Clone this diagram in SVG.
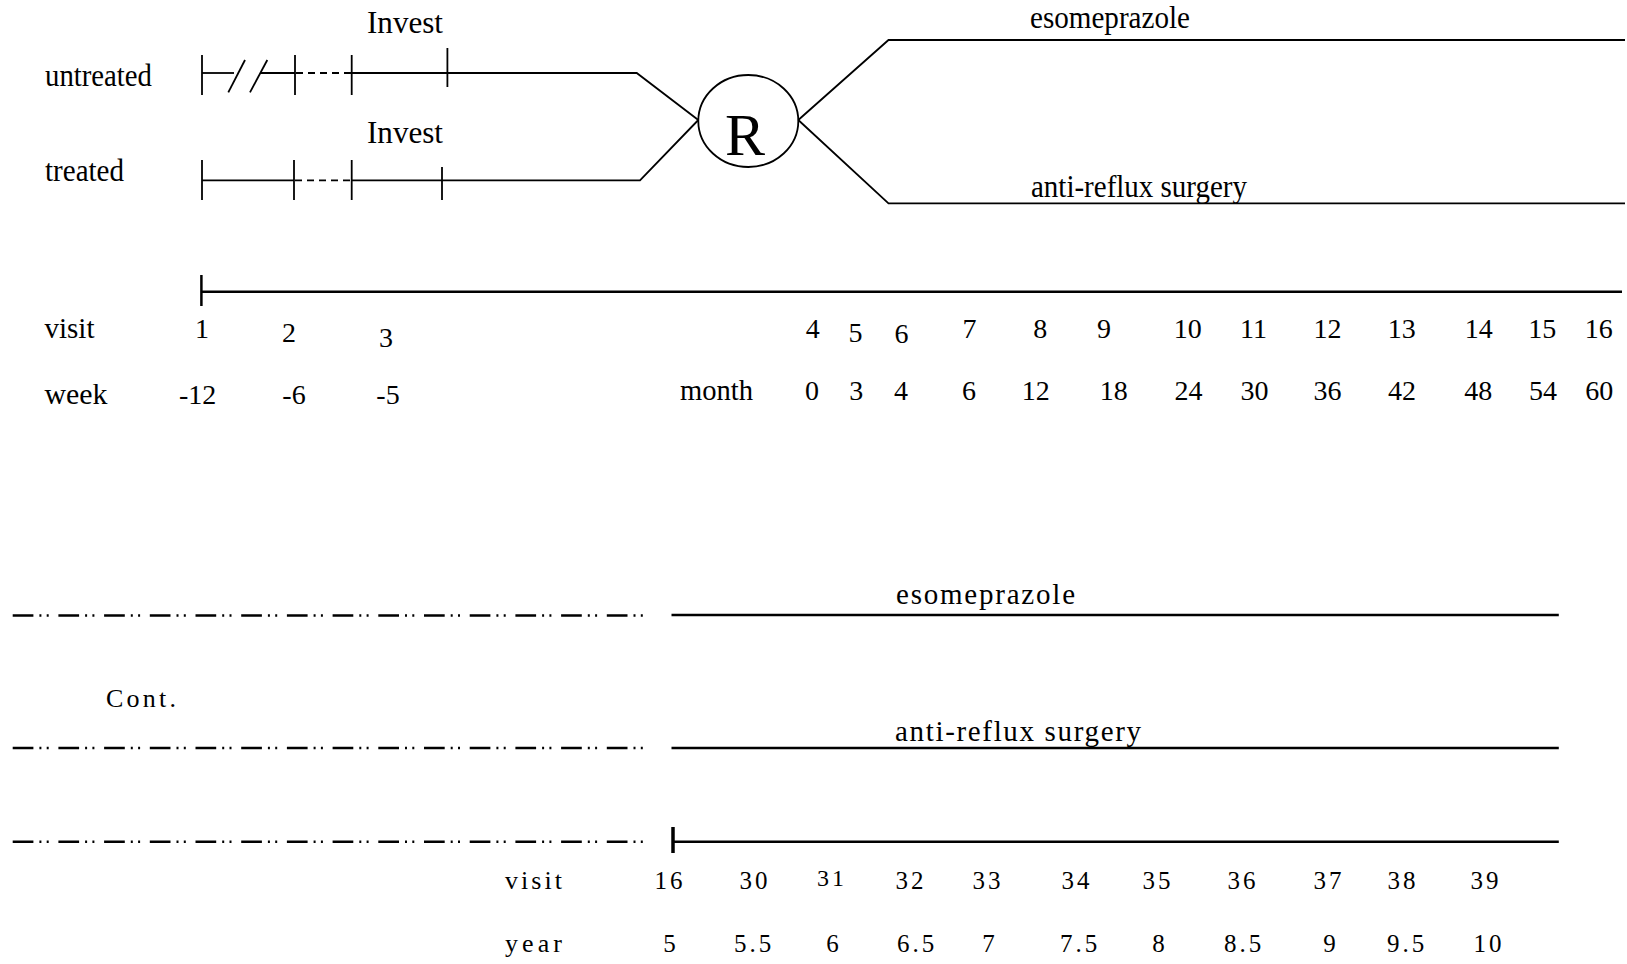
<svg xmlns="http://www.w3.org/2000/svg" width="1627" height="964" viewBox="0 0 1627 964">
<defs>
<style>
.t{font-family:"Liberation Serif","Times New Roman",serif;fill:#000}
.lab{font-size:32px}
.num{font-size:28px;text-anchor:middle}
.bl{font-size:29px;letter-spacing:2px}
.bn{font-size:25px;letter-spacing:3px;text-anchor:middle}
.ln{stroke:#000;stroke-width:1.8;fill:none}
.lt{stroke:#000;stroke-width:2.5;fill:none}
.dash{stroke:#000;stroke-width:1.8;stroke-dasharray:7 5;fill:none}
.ddd{stroke:#000;stroke-width:2.5;fill:none;stroke-dasharray:20.7 6 2 5.3 2 9.7}
</style>
</defs>
<rect width="1627" height="964" fill="#fff"/>

<g id="labels-top">
<text class="t lab" x="45" y="86" textLength="107" lengthAdjust="spacingAndGlyphs">untreated</text>
<text class="t lab" x="45" y="181" textLength="79" lengthAdjust="spacingAndGlyphs">treated</text>
<text class="t lab" x="367" y="33" textLength="76" lengthAdjust="spacingAndGlyphs">Invest</text>
<text class="t lab" x="367" y="143" textLength="76" lengthAdjust="spacingAndGlyphs">Invest</text>
</g>

<g id="untreated-arm">
<line class="ln" x1="202" y1="55" x2="202" y2="95"/>
<line class="ln" x1="202" y1="73" x2="234" y2="73"/>
<line class="ln" x1="228.3" y1="92.3" x2="245" y2="60"/>
<line class="ln" x1="250" y1="92.3" x2="267.3" y2="60"/>
<line class="ln" x1="260" y1="73" x2="295" y2="73"/>
<line class="ln" x1="295" y1="55" x2="295" y2="95"/>
<line class="dash" x1="296" y1="73" x2="351.7" y2="73"/>
<line class="ln" x1="351.7" y1="55" x2="351.7" y2="95"/>
<line class="ln" x1="447.4" y1="48" x2="447.4" y2="87"/>
<polyline class="ln" points="351.7,73 636.7,73 698.3,120"/>
</g>

<g id="treated-arm">
<line class="ln" x1="202" y1="160" x2="202" y2="200"/>
<line class="ln" x1="202" y1="180.3" x2="294" y2="180.3"/>
<line class="ln" x1="294" y1="160" x2="294" y2="200"/>
<line class="dash" x1="295" y1="180.3" x2="351.7" y2="180.3"/>
<line class="ln" x1="351.7" y1="160" x2="351.7" y2="200"/>
<line class="ln" x1="442" y1="167" x2="442" y2="200"/>
<polyline class="ln" points="351.7,180.3 640,180.3 698.3,120"/>
</g>

<g id="randomisation">
<ellipse class="ln" cx="748.3" cy="121" rx="50" ry="46"/>
<text class="t" x="745" y="155" font-size="60" text-anchor="middle">R</text>
</g>

<g id="arms-after">
<polyline class="ln" points="798.3,120 888.5,40 1625,40"/>
<polyline class="ln" points="798.3,120 888.5,203.3 1625,203.3"/>
<text class="t lab" x="1030" y="27.5" textLength="160" lengthAdjust="spacingAndGlyphs">esomeprazole</text>
<text class="t lab" x="1031" y="196.5" textLength="216" lengthAdjust="spacingAndGlyphs">anti-reflux surgery</text>
</g>

<g id="timeline-top">
<line class="lt" x1="201.4" y1="275" x2="201.4" y2="306"/>
<line class="lt" x1="201.4" y1="291.7" x2="1622" y2="291.7"/>
<text class="t" x="44.5" y="338" font-size="30" textLength="50" lengthAdjust="spacingAndGlyphs">visit</text>
<text class="t" x="44.5" y="404" font-size="30" textLength="63" lengthAdjust="spacingAndGlyphs">week</text>
<text class="t" x="680" y="400" font-size="30" textLength="73" lengthAdjust="spacingAndGlyphs">month</text>
<g class="t num">
<text x="202" y="338">1</text>
<text x="289" y="342">2</text>
<text x="386" y="347">3</text>
<text x="812.7" y="338">4</text>
<text x="855.4" y="342">5</text>
<text x="901.5" y="343">6</text>
<text x="969.5" y="338">7</text>
<text x="1040.2" y="338">8</text>
<text x="1104" y="338">9</text>
<text x="1187.7" y="338">10</text>
<text x="1253.6" y="338">11</text>
<text x="1327.4" y="338">12</text>
<text x="1401.8" y="338">13</text>
<text x="1478.8" y="338">14</text>
<text x="1542.3" y="338">15</text>
<text x="1598.7" y="338">16</text>
<text x="197.7" y="404">-12</text>
<text x="294" y="404">-6</text>
<text x="388" y="404">-5</text>
<text x="811.9" y="400">0</text>
<text x="856.2" y="400">3</text>
<text x="901" y="400">4</text>
<text x="969" y="400">6</text>
<text x="1035.7" y="400">12</text>
<text x="1113.8" y="400">18</text>
<text x="1188.5" y="400">24</text>
<text x="1254.6" y="400">30</text>
<text x="1327.4" y="400">36</text>
<text x="1402" y="400">42</text>
<text x="1478.3" y="400">48</text>
<text x="1543.1" y="400">54</text>
<text x="1599.2" y="400">60</text>
</g>
</g>

<g id="continuation">
<line class="ddd" x1="12.7" y1="615.5" x2="648" y2="615.5"/>
<line class="ddd" x1="12.7" y1="748" x2="648" y2="748"/>
<line class="ddd" x1="12.7" y1="841.7" x2="648" y2="841.7"/>
<text class="t" x="106" y="707" font-size="26" textLength="70" lengthAdjust="spacing">Cont.</text>
</g>

<g id="arms-long-term">
<line class="lt" x1="671.5" y1="615" x2="1558.8" y2="615"/>
<line class="lt" x1="671.5" y1="748" x2="1558.8" y2="748"/>
<text class="t bl" x="896" y="604" textLength="181" lengthAdjust="spacing">esomeprazole</text>
<text class="t bl" x="895" y="740.5" textLength="248" lengthAdjust="spacing">anti-reflux surgery</text>
</g>

<g id="timeline-bottom">
<line stroke="#000" stroke-width="3.5" x1="673" y1="827" x2="673" y2="853"/>
<line class="lt" x1="673" y1="841.7" x2="1558.8" y2="841.7"/>
<text class="t" x="505" y="889" font-size="26" textLength="57" lengthAdjust="spacing">visit</text>
<text class="t" x="505" y="952" font-size="26" textLength="57" lengthAdjust="spacing">year</text>
<g class="t bn">
<text x="670" y="889">16</text>
<text x="755" y="889">30</text>
<text x="832" y="886" font-size="24">31</text>
<text x="911" y="889">32</text>
<text x="988" y="889">33</text>
<text x="1077" y="889">34</text>
<text x="1158" y="889">35</text>
<text x="1243" y="889">36</text>
<text x="1329" y="889">37</text>
<text x="1403" y="889">38</text>
<text x="1486" y="889">39</text>
<text x="671" y="952">5</text>
<text x="754" y="952">5.5</text>
<text x="834" y="952">6</text>
<text x="917" y="952">6.5</text>
<text x="990" y="952">7</text>
<text x="1080" y="952">7.5</text>
<text x="1160" y="952">8</text>
<text x="1244" y="952">8.5</text>
<text x="1331" y="952">9</text>
<text x="1407" y="952">9.5</text>
<text x="1489" y="952">10</text>
</g>
</g>
</svg>
